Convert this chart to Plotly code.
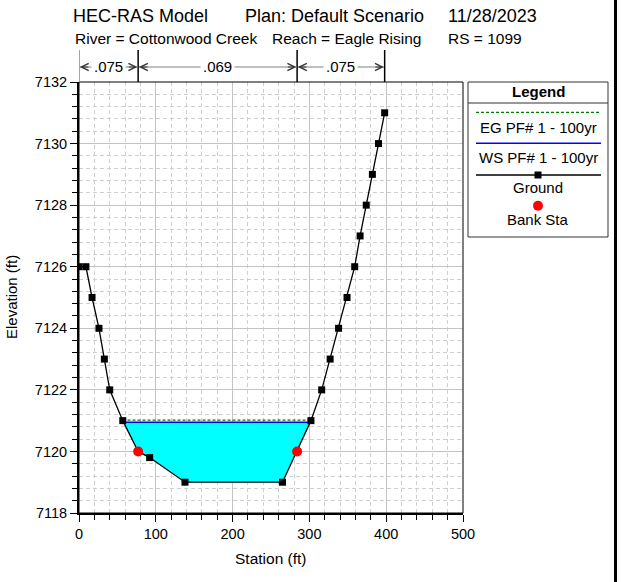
import plotly.graph_objects as go

# ---------------- data ----------------
station = [0, 9, 17, 26, 33, 40, 57, 77, 92, 138, 265, 284, 302, 316, 327, 338, 349, 359, 366, 374, 382, 390, 398]
elevation = [7126, 7126, 7125, 7124, 7123, 7122, 7121, 7120, 7119.8, 7119, 7119, 7120, 7121, 7122, 7123, 7124,
             7125, 7126, 7127, 7128, 7129, 7130, 7131]
bank_sta = [77, 284]
ws_elev = 7120.95
eg_elev = 7121.02
n_sta = [0, 77, 284, 398]
n_vals = [".075", ".069", ".075"]
title_parts = ["HEC-RAS Model", "Plan: Default Scenario", "11/28/2023"]
sub_parts = ["River = Cottonwood Creek", "Reach = Eagle Rising", "RS = 1099"]
legend_names = ["EG PF# 1 - 100yr", "WS PF# 1 - 100yr", "Ground", "Bank Sta"]

W, H = 621, 582
L, R, T, B = 79, 463, 82, 513  # pixel coords of the plot area
FONT = "Arial, Liberation Sans, sans-serif"


def px(x):
    return (x - L) / (R - L)


def py(y):
    return (B - y) / (B - T)


def interp_elev(x):
    for i in range(len(station) - 1):
        if station[i] <= x <= station[i + 1]:
            t = (x - station[i]) / (station[i + 1] - station[i])
            return elevation[i] + t * (elevation[i + 1] - elevation[i])
    return elevation[-1]


def crossings(level):
    left = right = None
    for i in range(len(station) - 1):
        y0, y1 = elevation[i], elevation[i + 1]
        x0, x1 = station[i], station[i + 1]
        if y0 >= level > y1 and left is None:
            left = x0 + (y0 - level) / (y0 - y1) * (x1 - x0)
        if y0 < level <= y1:
            right = x0 + (level - y0) / (y1 - y0) * (x1 - x0)
    return left, right


wl, wr = crossings(ws_elev)
poly_x = [wl] + [s for s, e in zip(station, elevation) if wl < s < wr] + [wr, wl]
poly_y = [ws_elev] + [e for s, e in zip(station, elevation) if wl < s < wr] + [ws_elev, ws_elev]
el_, er_ = crossings(eg_elev)

fig = go.Figure()
fig.add_trace(go.Scatter(x=poly_x, y=poly_y, mode="lines", fill="toself", fillcolor="#00FFFF",
                         line=dict(width=0, color="#00FFFF"), showlegend=False, hoverinfo="skip"))
fig.add_trace(go.Scatter(x=[el_, er_], y=[eg_elev, eg_elev], mode="lines",
                         line=dict(color="#008000", width=1.2, dash="3px,2px"), name=legend_names[0]))
fig.add_trace(go.Scatter(x=[wl, wr], y=[ws_elev, ws_elev], mode="lines",
                         line=dict(color="#0000FF", width=1.6), name=legend_names[1]))
fig.add_trace(go.Scatter(x=station, y=elevation, mode="lines+markers",
                         line=dict(color="black", width=1.3),
                         marker=dict(symbol="square", size=7, color="black"), name=legend_names[2]))
fig.add_trace(go.Scatter(x=bank_sta, y=[interp_elev(b) for b in bank_sta], mode="markers",
                         marker=dict(symbol="circle", size=10, color="#FF0000"), name=legend_names[3]))

shapes = []
annots = []


def text(x, y, t, size, **kw):
    d = dict(x=px(x), y=py(y), xref="paper", yref="paper", text=t, showarrow=False,
             xanchor=kw.pop("xanchor", "center"), yanchor="middle",
             font=dict(size=size, color="black", family=FONT))
    d.update(kw)
    annots.append(d)


# plot frame top/right
shapes.append(dict(type="rect", xref="paper", yref="paper", x0=0, x1=1, y0=0, y1=1,
                   line=dict(color="black", width=1), layer="above"))

# Manning's n zones
ny_top = py(50)
ny_arrow = py(67)
for i, s in enumerate(n_sta):
    shapes.append(dict(type="line", xref="x", yref="paper", x0=s, x1=s, y0=1, y1=ny_top,
                       line=dict(color="#888888" if i == 0 else "black", width=1.5)))
for i, v in enumerate(n_vals):
    a, b = n_sta[i], n_sta[i + 1]
    shapes.append(dict(type="line", xref="x", yref="paper", x0=a + 1, x1=b - 1, y0=ny_arrow, y1=ny_arrow,
                       line=dict(color="#808080", width=1.2)))
    annots.append(dict(x=(a + b) / 2, y=ny_arrow, xref="x", yref="paper", text=v, showarrow=False,
                       xanchor="center", yanchor="middle",
                       bgcolor="white", borderpad=2, font=dict(size=15, color="black", family=FONT)))
    annots.append(dict(x=a + 1, y=ny_arrow, xref="x", yref="paper", text="", showarrow=True,
                       ax=10, ay=0, axref="pixel", ayref="pixel", arrowhead=5, arrowsize=1.2,
                       arrowwidth=1.2, arrowcolor="#333333"))
    annots.append(dict(x=b - 1, y=ny_arrow, xref="x", yref="paper", text="", showarrow=True,
                       ax=-10, ay=0, axref="pixel", ayref="pixel", arrowhead=5, arrowsize=1.2,
                       arrowwidth=1.2, arrowcolor="#333333"))

# titles
for t, x0 in zip(title_parts, [71, 243, 446]):
    text(x0, 16, t, 18, xanchor="left")
for t, x0 in zip(sub_parts, [73, 270, 446]):
    text(x0, 38, t, 15.5, xanchor="left")

# axis titles
text(271, 558, "Station (ft)", 15.5)
text(11, 297, "Elevation (ft)", 15, textangle=-90)

# custom legend box
lx0, lx1, ly0, ly1 = 468, 608, 82, 237
lc = (lx0 + lx1) / 2
shapes.append(dict(type="rect", xref="paper", yref="paper", x0=px(lx0), x1=px(lx1), y0=py(ly0), y1=py(ly1),
                   line=dict(color="#333333", width=1), fillcolor="white"))
shapes.append(dict(type="line", xref="paper", yref="paper", x0=px(lx0), x1=px(lx1), y0=py(103), y1=py(103),
                   line=dict(color="#333333", width=1)))
text(lc, 91.5, "<b>Legend</b>", 15)
shapes.append(dict(type="line", xref="paper", yref="paper", x0=px(476), x1=px(601), y0=py(112.3), y1=py(112.3),
                   line=dict(color="#008000", width=1.2, dash="3px,2px")))
shapes.append(dict(type="line", xref="paper", yref="paper", x0=px(476), x1=px(601), y0=py(143.3), y1=py(143.3),
                   line=dict(color="#0000FF", width=1.5)))
shapes.append(dict(type="line", xref="paper", yref="paper", x0=px(476), x1=px(601), y0=py(175), y1=py(175),
                   line=dict(color="black", width=1.3)))
shapes.append(dict(type="rect", xref="paper", yref="paper", x0=px(lc - 3.5), x1=px(lc + 3.5),
                   y0=py(178.5), y1=py(171.5), line=dict(color="black", width=0), fillcolor="black"))
shapes.append(dict(type="circle", xref="paper", yref="paper", x0=px(lc - 5), x1=px(lc + 5),
                   y0=py(210.7), y1=py(200.7), line=dict(color="#FF0000", width=0), fillcolor="#FF0000"))
for t, yy in zip(legend_names, [127, 157.5, 187.5, 219.5]):
    text(lc, yy, t, 15)

# right border of page
shapes.append(dict(type="line", xref="paper", yref="paper", x0=px(615.5), x1=px(615.5), y0=py(0), y1=py(582),
                   line=dict(color="black", width=3)))

fig.update_layout(
    width=W, height=H,
    margin=dict(l=L, r=W - R, t=T, b=H - B, pad=0),
    paper_bgcolor="white", plot_bgcolor="white",
    showlegend=False,
    font=dict(family=FONT, size=15, color="black"),
    shapes=shapes, annotations=annots,
)
fig.update_xaxes(range=[0, 500], dtick=100, tick0=0, showline=True, linecolor="black", linewidth=2,
                 ticks="outside", ticklen=7, tickwidth=1, tickcolor="black",
                 showgrid=True, gridcolor="#c4c4c4", gridwidth=1, zeroline=False,
                 tickfont=dict(size=14.5, family=FONT, color="black"),
                 minor=dict(dtick=20, ticks="outside", ticklen=5, tickcolor="black", showgrid=True,
                            gridcolor="#cfcfcf", griddash="4px,3px", gridwidth=1))
fig.update_yaxes(range=[7118, 7132], dtick=2, tick0=7118, showline=True, linecolor="black", linewidth=2,
                 ticks="outside", ticklen=7, tickwidth=1, tickcolor="black",
                 showgrid=True, gridcolor="#c4c4c4", gridwidth=1, zeroline=False,
                 tickfont=dict(size=14.5, family=FONT, color="black"),
                 minor=dict(dtick=0.4, ticks="outside", ticklen=5, tickcolor="black", showgrid=True,
                            gridcolor="#cfcfcf", griddash="4px,3px", gridwidth=1))

fig.write_html("out.html", config=dict(displayModeBar=False),
               post_script="document.body.style.margin='0';")
